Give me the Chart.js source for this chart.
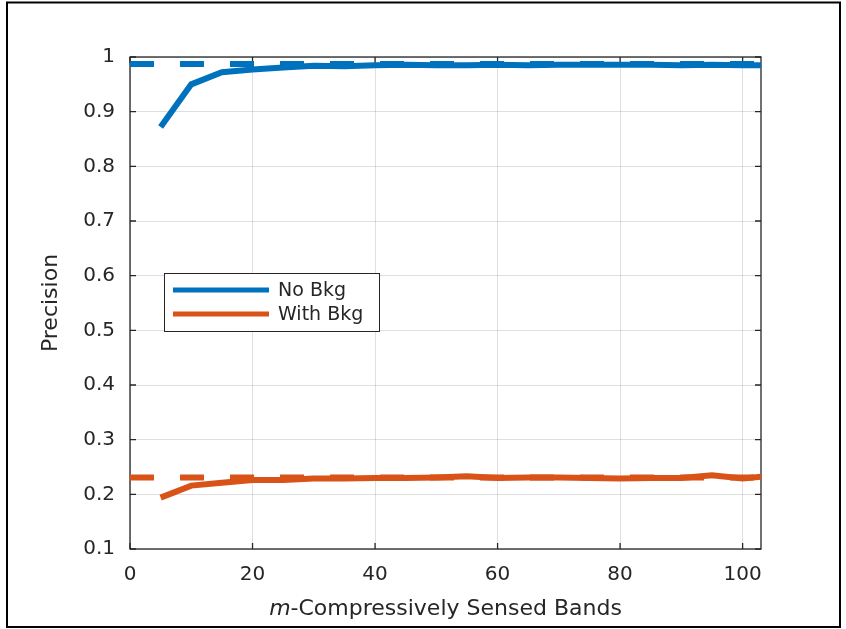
<!DOCTYPE html>
<html>
<head>
<meta charset="utf-8">
<script src="https://cdn.jsdelivr.net/npm/chart.js@4"></script>
<style>
  html, body { margin: 0; padding: 0; background: #fff; }
  #wrap { width: 846px; height: 629px; }
</style>
</head>
<body>
<div id="wrap"><canvas id="precisionChart" width="846" height="629"></canvas></div>
<script>
// number of compressively sensed bands (m)
const bands = [5, 10, 15, 20, 25, 30, 35, 40, 45, 50, 55, 60, 65, 70, 75, 80, 85, 90, 95, 100, 105];
const noBkg = [0.872, 0.950, 0.972, 0.977, 0.981, 0.984, 0.983, 0.985, 0.986, 0.985, 0.985,
               0.986, 0.985, 0.986, 0.986, 0.986, 0.986, 0.985, 0.986, 0.985, 0.985];
const withBkg = [0.194, 0.216, 0.221, 0.226, 0.226, 0.229, 0.229, 0.230, 0.230, 0.231, 0.233,
                 0.230, 0.231, 0.231, 0.230, 0.229, 0.230, 0.230, 0.235, 0.229, 0.234];
// full-band reference levels (dashed)
const noBkgRef = 0.987;
const withBkgRef = 0.231;

const xRange = [0, 103];
const xTicks = [0, 20, 40, 60, 80, 100];
const yTicks = [0.1, 0.2, 0.3, 0.4, 0.5, 0.6, 0.7, 0.8, 0.9, 1];

const BLUE = "#0072BD";
const ORANGE = "#D95319";
const INK = "#262626";
const FONT = "DejaVu Sans";

const toPoints = (xs, ys) => xs.map((x, i) => ({ x: x, y: ys[i] }));
const flat = (v) => xRange.map((x) => ({ x: x, y: v }));

const axesBox = {
    id: "axesBox",
    beforeDatasetsDraw(chart) {
        const { ctx, chartArea: a, scales } = chart;
        ctx.save();
        ctx.strokeStyle = INK;
        ctx.lineWidth = 1.3;
        ctx.strokeRect(a.left, a.top, a.right - a.left, a.bottom - a.top);
        // inward ticks on all four sides
        const tl = 6;
        ctx.beginPath();
        xTicks.forEach((v) => {
            const px = scales.x.getPixelForValue(v);
            ctx.moveTo(px, a.bottom); ctx.lineTo(px, a.bottom - tl);
            ctx.moveTo(px, a.top); ctx.lineTo(px, a.top + tl);
        });
        yTicks.forEach((v) => {
            const py = scales.y.getPixelForValue(v);
            ctx.moveTo(a.left, py); ctx.lineTo(a.left + tl, py);
            ctx.moveTo(a.right, py); ctx.lineTo(a.right - tl, py);
        });
        ctx.stroke();
        ctx.restore();
    },
    afterDraw(chart) {
        const { ctx, chartArea: a } = chart;
        ctx.save();
        ctx.fillStyle = INK;

        // x axis title with italic m
        ctx.textBaseline = "alphabetic";
        const cx = (a.left + a.right) / 2;
        ctx.font = "italic 22px '" + FONT + "'";
        const w1 = ctx.measureText("m").width;
        ctx.font = "22px '" + FONT + "'";
        const rest = "-Compressively Sensed Bands";
        const w2 = ctx.measureText(rest).width;
        const sx = cx - (w1 + w2) / 2;
        ctx.font = "italic 22px '" + FONT + "'";
        ctx.textAlign = "left";
        ctx.fillText("m", sx, 615);
        ctx.font = "22px '" + FONT + "'";
        ctx.fillText(rest, sx + w1, 615);

        // y axis title
        ctx.save();
        ctx.translate(57, (a.top + a.bottom) / 2);
        ctx.rotate(-Math.PI / 2);
        ctx.textAlign = "center";
        ctx.fillText("Precision", 0, 0);
        ctx.restore();

        // legend
        const lx = 164, ly = 273, lw = 215, lh = 58;
        ctx.fillStyle = "#fff";
        ctx.fillRect(lx, ly, lw, lh);
        ctx.strokeStyle = INK;
        ctx.lineWidth = 1;
        ctx.strokeRect(lx + 0.5, ly + 0.5, lw, lh);
        const items = [["No Bkg", BLUE, 290], ["With Bkg", ORANGE, 314]];
        ctx.font = "19px '" + FONT + "'";
        ctx.textAlign = "left";
        ctx.textBaseline = "middle";
        items.forEach(([label, color, y]) => {
            ctx.strokeStyle = color;
            ctx.lineWidth = 5;
            ctx.beginPath();
            ctx.moveTo(173, y); ctx.lineTo(269, y);
            ctx.stroke();
            ctx.fillStyle = INK;
            ctx.fillText(label, 278, y + 1);
        });

        // outer figure frame
        ctx.strokeStyle = "#000";
        ctx.lineWidth = 2;
        ctx.strokeRect(7, 2.5, 833, 624.5);
        ctx.restore();
    }
};

new Chart(document.getElementById("precisionChart").getContext("2d"), {
    type: "line",
    data: {
        datasets: [
            { data: flat(noBkgRef), borderColor: BLUE, borderWidth: 6, borderDash: [24, 26] },
            { data: flat(withBkgRef), borderColor: ORANGE, borderWidth: 6, borderDash: [24, 26] },
            { label: "No Bkg", data: toPoints(bands, noBkg), borderColor: BLUE, borderWidth: 6 },
            { label: "With Bkg", data: toPoints(bands, withBkg), borderColor: ORANGE, borderWidth: 6 }
        ]
    },
    options: {
        responsive: false,
        devicePixelRatio: 1,
        animation: false,
        layout: { padding: { top: 57, right: 85, left: 0, bottom: 0 } },
        elements: { point: { radius: 0 }, line: { tension: 0, borderCapStyle: "butt" } },
        plugins: { legend: { display: false }, tooltip: { enabled: false } },
        scales: {
            x: {
                type: "linear",
                min: xRange[0],
                max: xRange[1],
                afterBuildTicks: (s) => { s.ticks = xTicks.map((v) => ({ value: v })); },
                afterFit: (s) => { s.height = 80; },
                grid: { color: "rgba(38,38,38,0.15)", drawTicks: false },
                border: { display: false },
                ticks: { color: INK, font: { family: FONT, size: 20 }, padding: 14, maxRotation: 0 }
            },
            y: {
                min: 0.1,
                max: 1,
                afterBuildTicks: (s) => { s.ticks = yTicks.map((v) => ({ value: v })); },
                afterFit: (s) => { s.width = 130; },
                grid: { color: "rgba(38,38,38,0.15)", drawTicks: false },
                border: { display: false },
                ticks: { color: INK, font: { family: FONT, size: 20 }, padding: 15, callback: (v) => String(Math.round(v * 10) / 10) }
            }
        }
    },
    plugins: [axesBox]
});
</script>
</body>
</html>
